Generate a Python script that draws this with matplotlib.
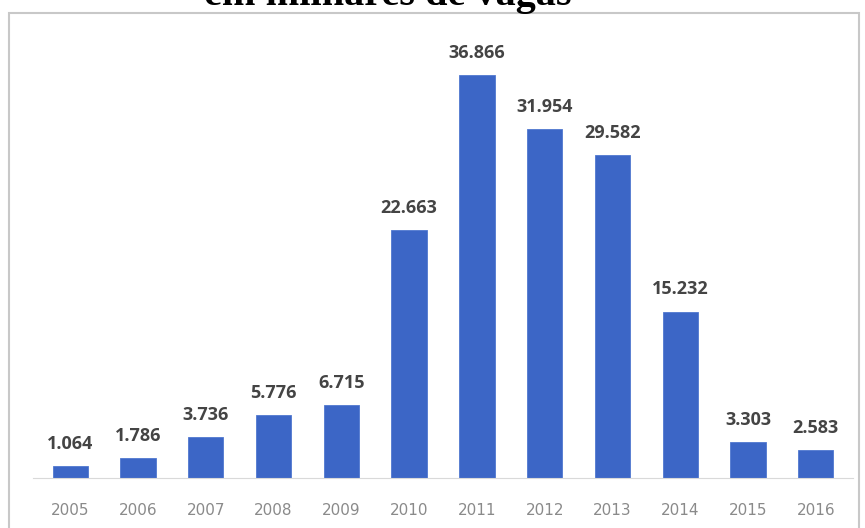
import matplotlib.pyplot as plt
from matplotlib.patches import Rectangle

anos = ['2005', '2006', '2007', '2008', '2009', '2010',
        '2011', '2012', '2013', '2014', '2015', '2016']
vagas = [1.064, 1.786, 3.736, 5.776, 6.715, 22.663,
         36.866, 31.954, 29.582, 15.232, 3.303, 2.583]
rotulos = ['1.064', '1.786', '3.736', '5.776', '6.715', '22.663',
           '36.866', '31.954', '29.582', '15.232', '3.303', '2.583']

fig = plt.figure(figsize=(8.65, 5.28), dpi=100)

# moldura do grafico
fig.patches.append(Rectangle((9 / 865, -0.01), 850 / 865, 1 - 13 / 528 + 0.01,
                             transform=fig.transFigure, fill=False,
                             edgecolor='#c8c8c8', linewidth=1.5))

# titulo cortado no topo
fig.text(388 / 865, 1 - 5 / 528, 'em milhares de vagas', ha='center',
         va='baseline', family='Liberation Serif', fontweight='bold',
         fontsize=29, color='black')

ax = fig.add_axes([33 / 865, 1 - 478 / 528, 820 / 865, 437 / 528])
pos = range(len(anos))
ax.bar(pos, vagas, width=0.52, color='#3c66c6', edgecolor='#5078d0',
       linewidth=0.6)

for x, v, t in zip(pos, vagas, rotulos):
    ax.text(x, v + 1.2, t, ha='center', va='bottom', fontsize=13,
            fontweight='bold', color='#444444', family='Open Sans')

ax.set_xlim(-0.55, 11.55)
ax.set_ylim(0, 40)
ax.set_xticks(list(pos))
ax.set_xticklabels(anos, fontsize=11, color='#8a8a8a')
ax.tick_params(axis='x', length=0, pad=18)
ax.set_yticks([])
for s in ['top', 'right', 'left']:
    ax.spines[s].set_visible(False)
ax.spines['bottom'].set_color('#d9d9d9')

fig.savefig('out.png', dpi=100)
